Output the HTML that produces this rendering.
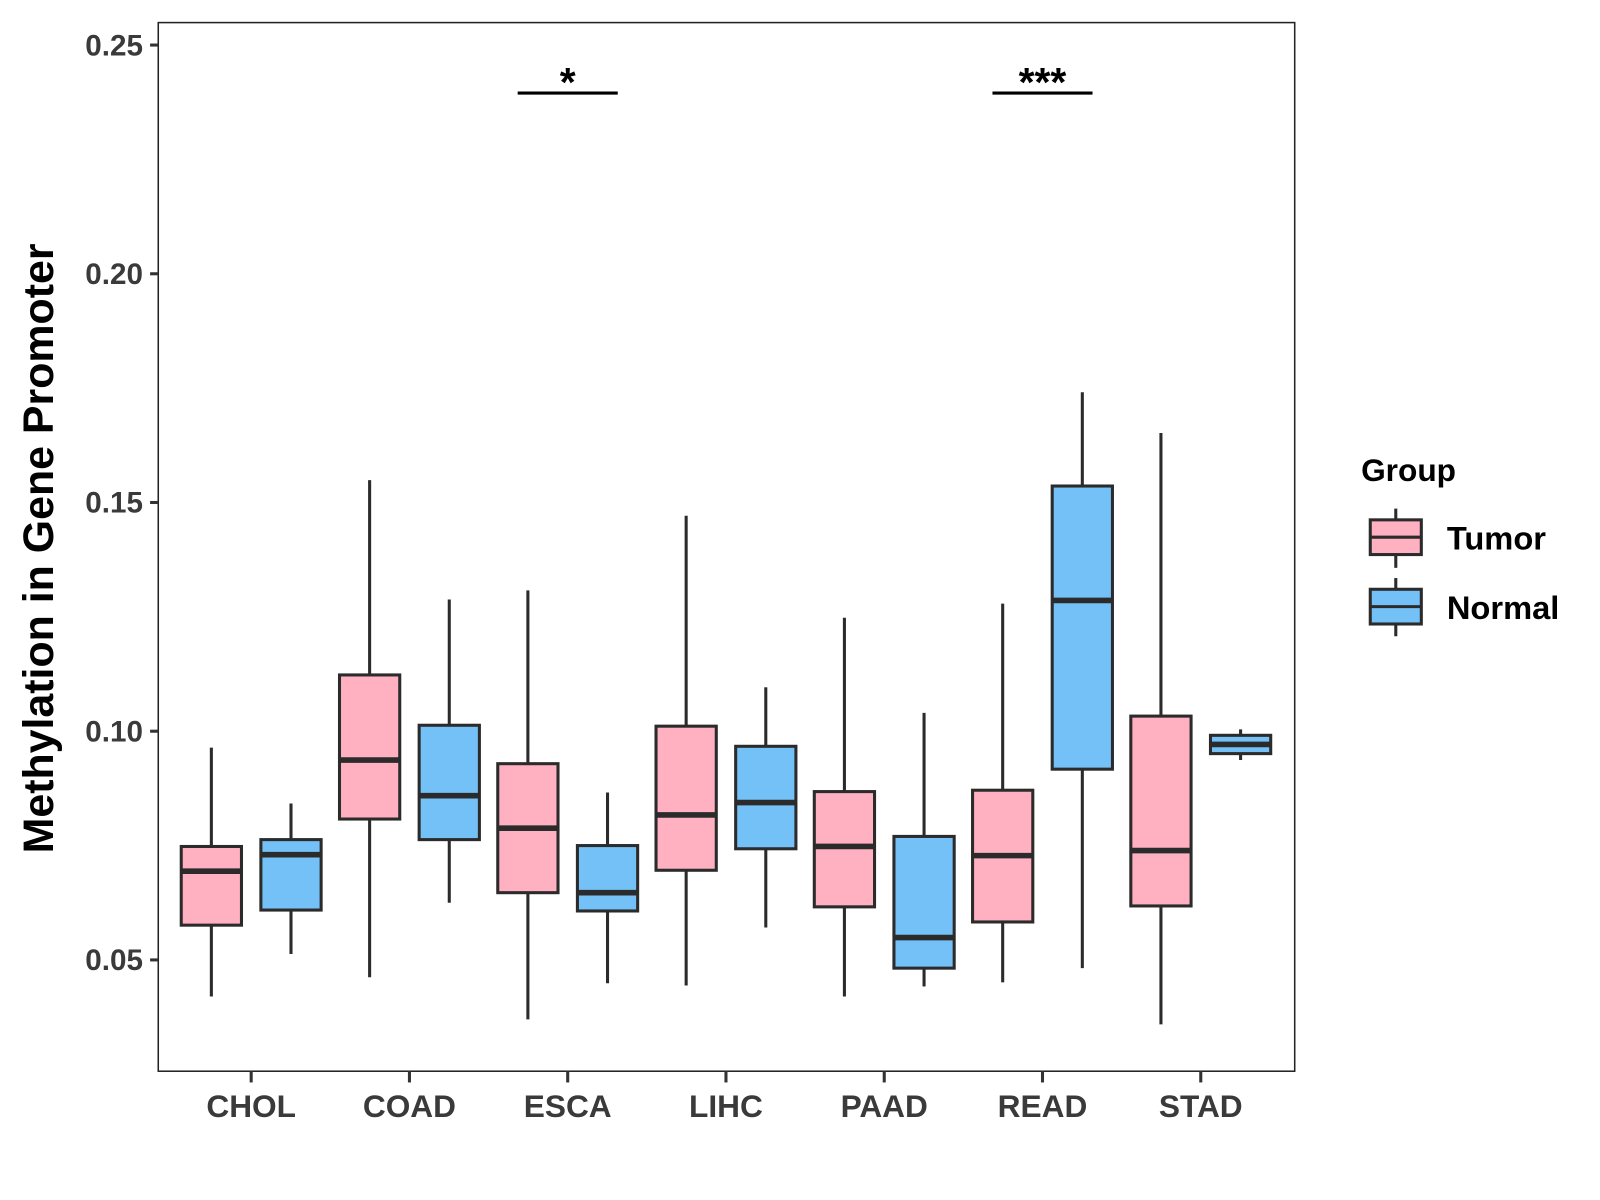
<!DOCTYPE html>
<html><head><meta charset="utf-8"><style>html,body{margin:0;padding:0;background:#fff}svg{display:block}</style></head>
<body>
<svg id="chart" width="1600" height="1200" viewBox="0 0 1567 1175" xmlns="http://www.w3.org/2000/svg" font-family="Liberation Sans, Arial, sans-serif" font-weight="bold">
<rect width="1567" height="1175" fill="#fff"/>
<g id="plot"></g>
<text x="0" y="0" transform="translate(52,537) rotate(-90)" text-anchor="middle" font-size="42" fill="#000">Methylation in Gene Promoter</text>
<g>
<text x="1333" y="471" font-size="31" fill="#000">Group</text>
<g>
<line x1="1367" y1="498" x2="1367" y2="556" stroke="#2b2b2b" stroke-width="3"/>
<rect x="1342" y="509" width="50" height="34" fill="#FFB0C1" stroke="#2b2b2b" stroke-width="3"/>
<line x1="1342" y1="526" x2="1392" y2="526" stroke="#2b2b2b" stroke-width="3"/>
<text x="1417" y="538" font-size="32" fill="#000">Tumor</text>
</g>
<g>
<line x1="1367" y1="566" x2="1367" y2="623" stroke="#2b2b2b" stroke-width="3"/>
<rect x="1342" y="577" width="50" height="34" fill="#74C1F8" stroke="#2b2b2b" stroke-width="3"/>
<line x1="1342" y1="594" x2="1392" y2="594" stroke="#2b2b2b" stroke-width="3"/>
<text x="1417" y="606" font-size="32" fill="#000">Normal</text>
</g>
</g>
</svg>
<script>
const categories = ["CHOL","COAD","ESCA","LIHC","PAAD","READ","STAD"];
const groups = ["Tumor","Normal"];
// [low whisker, Q1, median, Q3, high whisker]
const tumorStats = [
 [0.042,0.0576,0.0694,0.0748,0.0964],
 [0.0462,0.0808,0.0937,0.1123,0.1549],
 [0.037,0.0647,0.0788,0.0929,0.1308],
 [0.0444,0.0696,0.0817,0.1011,0.1471],
 [0.042,0.0616,0.0748,0.0868,0.1248],
 [0.0451,0.0583,0.0728,0.0871,0.1279],
 [0.0359,0.0618,0.0739,0.1033,0.1652]
];
const normalStats = [
 [0.0513,0.0609,0.073,0.0763,0.0842],
 [0.0625,0.0763,0.0859,0.1013,0.1288],
 [0.0449,0.0607,0.0647,0.075,0.0866],
 [0.0571,0.0743,0.0844,0.0967,0.1096],
 [0.0442,0.0482,0.0549,0.077,0.104],
 [0.0482,0.0917,0.1286,0.1536,0.1741],
 [0.0937,0.0951,0.0971,0.0991,0.1004]
];
const yTicks = [0.05,0.10,0.15,0.20,0.25];
const yTickLabels = ["0.05","0.10","0.15","0.20","0.25"];
const sigCategories = ["ESCA","READ"];
const sigLabels = ["*","***"];
const sigLevel = 0.2395;

const NS="http://www.w3.org/2000/svg";
const P={l:155,r:1268,t:22,b:1049};
const y=v=>44+(0.25-v)*4480;
const x=i=>246+i*155;
const g=document.getElementById('plot');
function el(t,a,p){const e=document.createElementNS(NS,t);for(const k in a)e.setAttribute(k,a[k]);(p||g).appendChild(e);return e;}

const frame=el('rect',{x:P.l,y:P.t,width:P.r-P.l,height:P.b-P.t,fill:'none',stroke:'#222','stroke-width':1.5});



yTicks.forEach((v,i)=>{
 el('line',{x1:P.l-8,x2:P.l,y1:y(v),y2:y(v),stroke:'#333','stroke-width':3});
 const t=el('text',{x:P.l-15,y:y(v)+10,'text-anchor':'end','font-size':29,fill:'#3a3a3a'});
 t.textContent=yTickLabels[i];
 
 
});
categories.forEach((c,i)=>{
 el('line',{x1:x(i),x2:x(i),y1:P.b,y2:P.b+11,stroke:'#333','stroke-width':3});
 const t=el('text',{x:x(i),y:1094,'text-anchor':'middle','font-size':31,fill:'#3a3a3a'});
 t.textContent=c;
 
 
});
function box(s,cx,fill,name){
 const bg=el('g',{});
 
 
 const w=29.5;
 el('line',{x1:cx,x2:cx,y1:y(s[4]),y2:y(s[3]),stroke:'#2b2b2b','stroke-width':3},bg);
 el('line',{x1:cx,x2:cx,y1:y(s[1]),y2:y(s[0]),stroke:'#2b2b2b','stroke-width':3},bg);
 el('rect',{x:cx-w,y:y(s[3]),width:2*w,height:y(s[1])-y(s[3]),fill:fill,stroke:'#2b2b2b','stroke-width':3},bg);
 el('line',{x1:cx-w,x2:cx+w,y1:y(s[2]),y2:y(s[2]),stroke:'#2b2b2b','stroke-width':5.5},bg);
}
categories.forEach((c,i)=>{
 box(tumorStats[i],x(i)-39,'#FFB0C1','box-'+c.toLowerCase()+'-tumor');
 box(normalStats[i],x(i)+39,'#74C1F8','box-'+c.toLowerCase()+'-normal');
});
sigCategories.forEach((c,j)=>{
 const i=categories.indexOf(c);
 const ln=el('line',{x1:x(i)-49,x2:x(i)+49,y1:y(sigLevel),y2:y(sigLevel),stroke:'#000','stroke-width':3});
 
 
 const t=el('text',{x:x(i),y:y(sigLevel)+3,'text-anchor':'middle','font-size':40,fill:'#000'});
 t.textContent=sigLabels[j];
 
 
});
</script>
</body></html>
